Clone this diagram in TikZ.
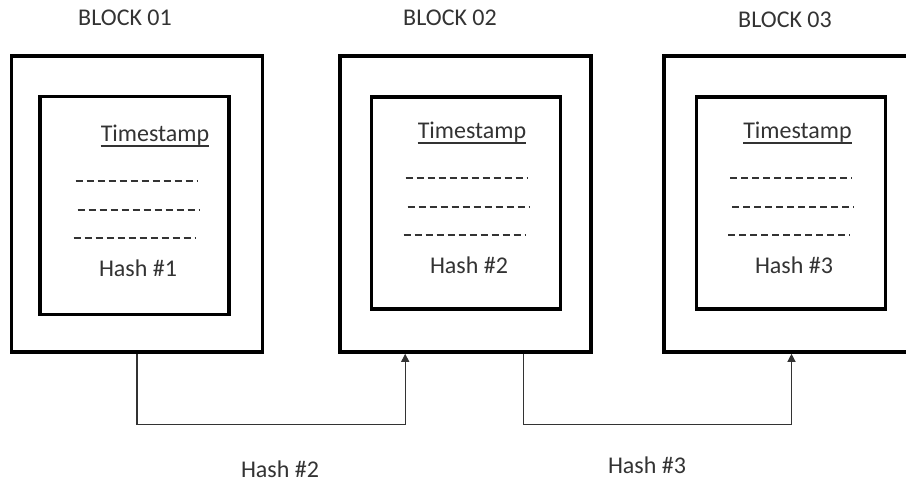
\documentclass[tikz,border=0pt]{standalone}
\usepackage{fontspec}
\setmainfont{Carlito}
\usetikzlibrary{arrows.meta,positioning}

\tikzset{
  outer/.style={draw, line width=3.6pt, minimum width=251pt, minimum height=296pt, inner sep=0pt},
  inner/.style={draw, line width=3.6pt, minimum width=189pt, minimum height=212pt, inner sep=0pt},
  lbl/.style={text=black!80, font=\fontsize{24}{28}\selectfont, inner sep=0pt, anchor=base},
  dots/.style={line width=1.6pt, black!80, dash pattern=on 7pt off 4pt},
  link/.style={line width=1.2pt, black!80, -{Triangle[length=8pt,width=8pt]}},
}

\begin{document}
\begin{tikzpicture}[x=1pt,y=-1pt]
  \useasboundingbox (0,0) rectangle (906,482);
  \clip (0,0) rectangle (906,482);

  % the three blocks: outer frame, data box, title
  \foreach \i/\ox/\ix/\iy/\dy/\tx/\dx/\hx/\bx/\by in
    {1/137/134.5/205.5/3/155/136.5/138/125/25,
     2/465.5/466/203/0/472/466.5/469/450/25,
     3/789.5/791/203/0/797.5/791/794/785/27}{
    \node[outer] (block\i) at (\ox,204) {};
    \node[inner, minimum height=212pt+2*\dy pt] (data\i) at (\ix,\iy) {};
    \node[lbl] (title\i) at (\bx,\by) {BLOCK 0\i};
    \node[lbl] (stamp\i) at (\tx,138+\dy) {Timestamp};
    \draw[line width=1.6pt, black!80] ([yshift=-5pt]stamp\i.base west) -- ([yshift=-5pt]stamp\i.base east);
    \draw[dots] (\dx-61,178+\dy) -- (\dx+61,178+\dy);
    \draw[dots] (\dx-59,207+\dy) -- (\dx+63,207+\dy);
    \draw[dots] (\dx-63,235+\dy) -- (\dx+59,235+\dy);
    \node[lbl] (hash\i) at (\hx,273+\dy) {Hash \#\i};
  }

  % links carrying the hash to the next block
  \draw[link] (block1.south) -- ++(0,71) -| ([xshift=67pt]block2.south west);
  \draw[link] ([xshift=58pt]block2.south) -- ++(0,71) -| ([xshift=2pt]block3.south);
  \node[lbl] (h2) at (280,477) {Hash \#2};
  \node[lbl] (h3) at (647,473) {Hash \#3};
\end{tikzpicture}
\end{document}
